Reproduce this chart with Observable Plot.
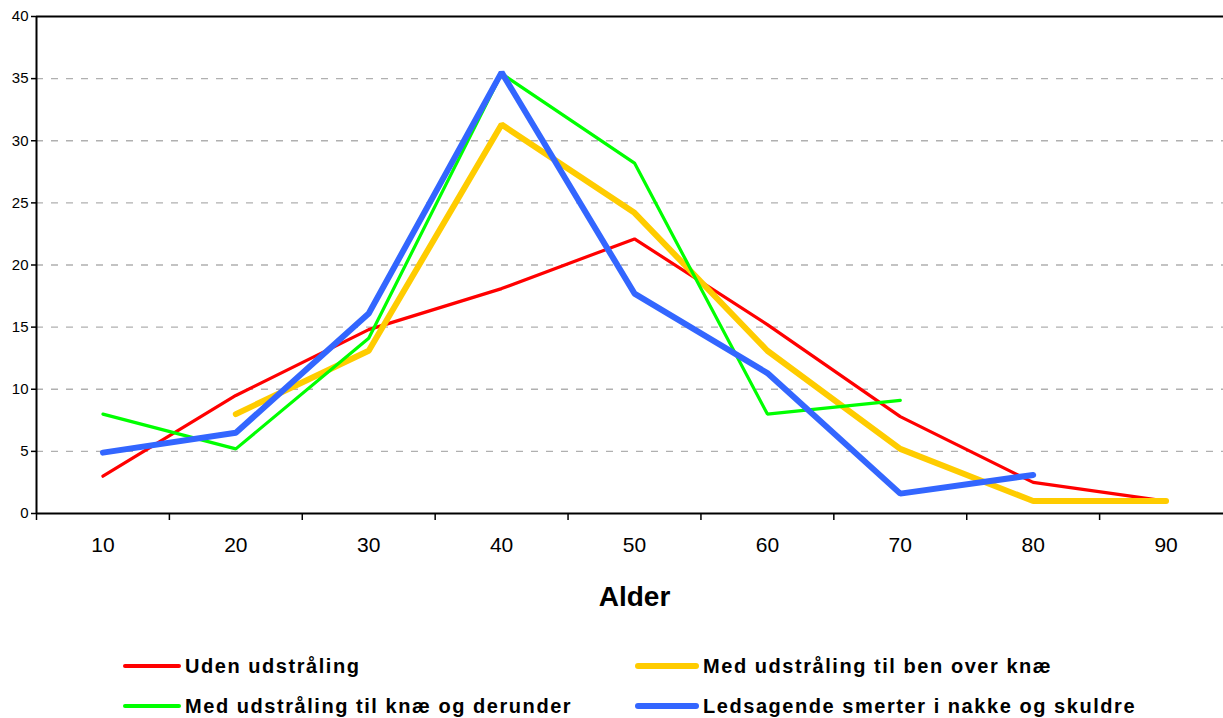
<!DOCTYPE html>
<html>
<head>
<meta charset="utf-8">
<script src="https://cdn.jsdelivr.net/npm/d3@7"></script>
<script src="https://cdn.jsdelivr.net/npm/@observablehq/plot@0.6"></script>
<style>
  html, body { margin: 0; padding: 0; background: #fff; overflow: hidden; }
  body { font-family: "Liberation Sans", Arial, sans-serif; width: 1223px; height: 718px; }
  #chart svg { max-width: none !important; display: block; }
  #legend { position: relative; width: 1223px; height: 88px; }
  .item { position: absolute; display: flex; align-items: center; height: 30px; }
  .sw { display: inline-block; border-radius: 3px; margin-right: 4px; }
  .lab { font-weight: bold; font-size: 20px; letter-spacing: 1.55px; color: #000; white-space: nowrap; }
</style>
</head>
<body>
<div id="chart"></div>
<div id="legend"></div>
<script>
const ages = [10, 20, 30, 40, 50, 60, 70, 80, 90];
const uden = [3.0, 9.5, 14.8, 18.1, 22.1, 15.2, 7.8, 2.5, 1.0];
const benOverKnae = [null, 8.0, 13.1, 31.3, 24.2, 13.1, 5.2, 1.0, 1.0];
const knaeDerunder = [8.0, 5.2, 14.1, 35.4, 28.2, 8.0, 9.1, null, null];
const nakkeSkuldre = [4.9, 6.5, 16.1, 35.5, 17.7, 11.3, 1.6, 3.1, null];
const yTicks = [0, 5, 10, 15, 20, 25, 30, 35, 40];
const gridTicks = [5, 10, 15, 20, 25, 30, 35];

const seriesNames = [
  "Uden udstråling",
  "Med udstråling til ben over knæ",
  "Med udstråling til knæ og derunder",
  "Ledsagende smerter i nakke og skuldre"
];
const seriesValues = [uden, benOverKnae, knaeDerunder, nakkeSkuldre];
const colors = ["#ff0000", "#ffcc00", "#00ff00", "#3366ff"];
const widths = [3.2, 6, 3.2, 6];

const step = ages[1] - ages[0];
const xDomain = [ages[0] - step / 2, ages[ages.length - 1] + step / 2];
const boundaries = ages.map(a => a - step / 2).concat([ages[ages.length - 1] + step / 2]);

const lineMarks = seriesValues.map((vals, i) => {
  const data = ages.map((a, j) => ({age: a, v: vals[j]})).filter(d => d.v != null);
  return Plot.line(data, {
    x: "age", y: "v", stroke: colors[i], strokeWidth: widths[i],
    strokeLinecap: "round", strokeLinejoin: "miter"
  });
});

const chart = Plot.plot({
  width: 1240,
  height: 630,
  marginTop: 16,
  marginLeft: 36,
  marginRight: 8,
  marginBottom: 117,
  style: {fontFamily: "'Liberation Sans', Arial, sans-serif", background: "#fff", color: "#000", overflow: "visible"},
  x: {type: "linear", domain: xDomain},
  y: {domain: [0, 40]},
  marks: [
    Plot.ruleY(gridTicks, {stroke: "#b0b0b0", strokeWidth: 1.3, strokeDasharray: "7,8", strokeOpacity: 1}),
    Plot.axisY(yTicks, {tickSize: 5, tickPadding: 3, fontSize: 15, stroke: "#000", strokeWidth: 1.5, label: null}),
    Plot.axisX(boundaries, {tickSize: 7, tickFormat: () => "", stroke: "#000", strokeWidth: 1.5, label: null}),
    Plot.axisX(ages, {tickSize: 0, tickPadding: 24, fontSize: 21, label: null}),
    Plot.ruleY([40], {stroke: "#000", strokeWidth: 2}),
    Plot.ruleY([0], {stroke: "#000", strokeWidth: 2}),
    Plot.ruleX([xDomain[0]], {stroke: "#000", strokeWidth: 2}),
    ...lineMarks,
    Plot.text(["Alder"], {frameAnchor: "bottom", lineAnchor: "middle", dy: 84, fontSize: 28, fontWeight: "bold", fill: "#000"})
  ]
});
document.getElementById("chart").appendChild(chart);

// Legend
const legend = document.getElementById("legend");
const pos = [
  {left: 123, top: 21, sw: 58},
  {left: 635, top: 21, sw: 64},
  {left: 123, top: 61, sw: 58},
  {left: 635, top: 61, sw: 64}
];
seriesNames.forEach((name, i) => {
  const it = document.createElement("div");
  it.className = "item";
  it.style.left = pos[i].left + "px";
  it.style.top = pos[i].top + "px";
  const sw = document.createElement("span");
  sw.className = "sw";
  sw.style.width = pos[i].sw + "px";
  sw.style.height = (i % 2 === 1 ? 6 : 4) + "px";
  sw.style.background = colors[i];
  const lab = document.createElement("span");
  lab.className = "lab";
  lab.textContent = name;
  it.appendChild(sw);
  it.appendChild(lab);
  legend.appendChild(it);
});
</script>
</body>
</html>
